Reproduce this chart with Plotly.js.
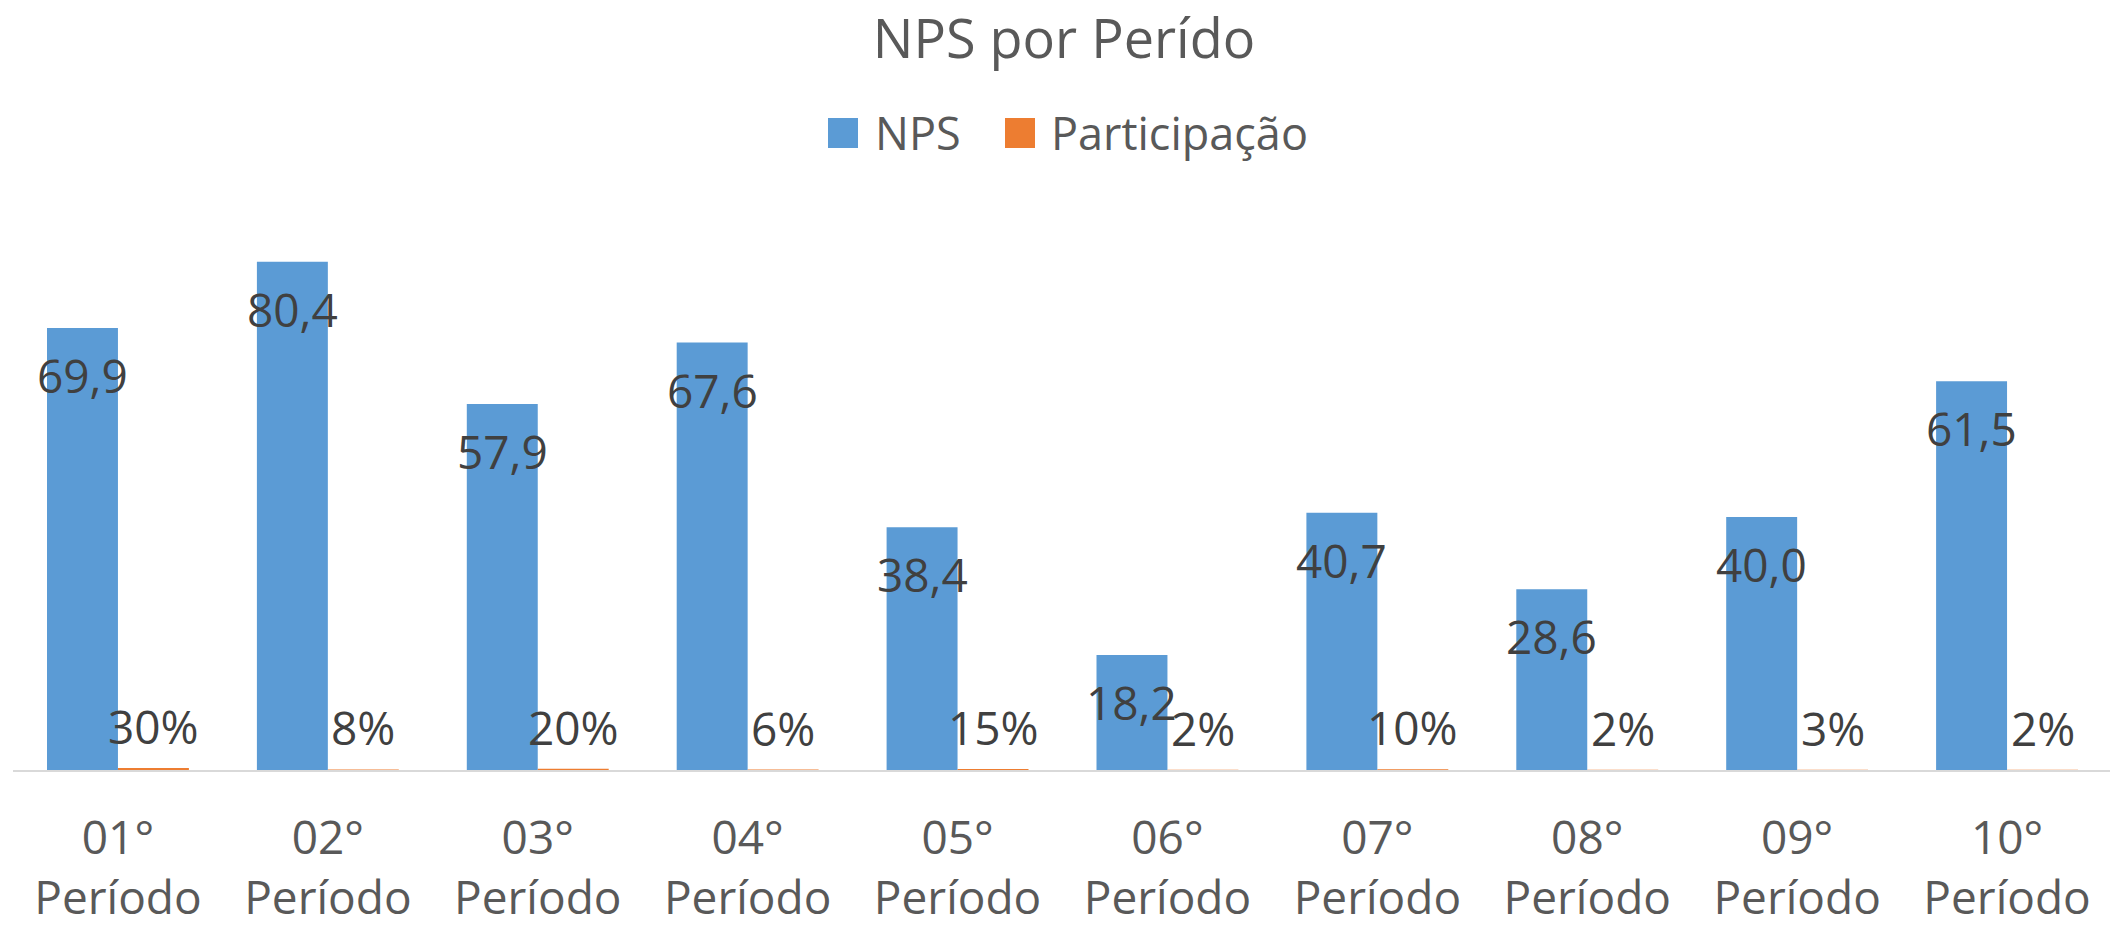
<!DOCTYPE html>
<html>
<head>
<meta charset="utf-8">
<script src="https://cdn.plot.ly/plotly-3.0.1.min.js"></script>
<style>html,body{margin:0;padding:0;background:#fff;}#chart{width:2110px;height:926px;}</style>
</head>
<body>
<div id="chart"></div>
<script>
// ---- data ----
var categories = ["01° Período","02° Período","03° Período","04° Período","05° Período","06° Período","07° Período","08° Período","09° Período","10° Período"];
var npsValues = [69.9, 80.4, 57.9, 67.6, 38.4, 18.2, 40.7, 28.6, 40.0, 61.5];
var participacaoValues = [0.30, 0.08, 0.20, 0.06, 0.15, 0.02, 0.10, 0.02, 0.03, 0.02];
var seriesNames = ["NPS", "Participação"];
var tickLabels = categories.map(function(c){ return c.replace(" ", "<br>"); });

// ---- layout constants ----
var W = 2110, H = 926;
var M = {l: 13, r: 0, t: 201, b: 156, pad: 0};
var plotW = W - M.l - M.r, plotH = H - M.t - M.b;
function pxX(px){ return (px - M.l) / plotW; }
function pxY(py){ return (H - M.b - py) / plotH; }

var FONT = "'Open Sans', 'Noto Sans', sans-serif";
var BLUE = "#5B9BD5", ORANGE = "#ED7D31";
var LABEL_COLOR = "#404040", TEXT_COLOR = "#595959";
var barHalf = 210 * (1 - 0.324) / 4; // half of one bar width in px

var traces = [
  {type: "bar", name: seriesNames[0], x: categories, y: npsValues,
   marker: {color: BLUE}, showlegend: false, hoverinfo: "x+y"},
  {type: "bar", name: seriesNames[1], x: categories, y: participacaoValues,
   marker: {color: ORANGE}, showlegend: false, hoverinfo: "x+y"}
];

var annotations = [];
categories.forEach(function(c, i){
  annotations.push({
    x: c, y: npsValues[i], xref: "x", yref: "y",
    text: npsValues[i].toFixed(1).replace(".", ","),
    showarrow: false, xanchor: "center", yanchor: "middle",
    xshift: -barHalf, yshift: -47,
    font: {family: FONT, size: 46, color: LABEL_COLOR}
  });
  annotations.push({
    x: c, y: participacaoValues[i], xref: "x", yref: "y",
    text: Math.round(participacaoValues[i] * 100) + "%",
    showarrow: false, xanchor: "center", yanchor: "middle",
    xshift: barHalf, yshift: 42,
    font: {family: FONT, size: 46, color: LABEL_COLOR}
  });
});

// manual legend (large square swatches)
var legendItems = [
  {name: seriesNames[0], color: BLUE, sq: 828, tx: 873},
  {name: seriesNames[1], color: ORANGE, sq: 1005, tx: 1049}
];
var shapes = [];
legendItems.forEach(function(it){
  shapes.push({type: "rect", xref: "paper", yref: "paper",
    x0: pxX(it.sq), x1: pxX(it.sq + 30), y0: pxY(148), y1: pxY(118),
    fillcolor: it.color, line: {width: 0}});
  annotations.push({xref: "paper", yref: "paper", x: pxX(it.tx), y: pxY(132),
    text: it.name, showarrow: false, xanchor: "left", yanchor: "middle",
    font: {family: FONT, size: 45, color: TEXT_COLOR}});
});

var layout = {
  width: W, height: H,
  margin: M,
  paper_bgcolor: "#ffffff", plot_bgcolor: "#ffffff",
  title: {text: "NPS por Perído", x: pxX(1064), xref: "paper", xanchor: "center",
          y: 1 - 39 / H, yref: "container", yanchor: "middle",
          font: {family: FONT, size: 54, color: TEXT_COLOR}},
  barmode: "group", bargap: 0.324, bargroupgap: 0,
  showlegend: false,
  xaxis: {type: "category", range: [-0.5, 9.5 - 2 / 210],
          tickvals: categories, ticktext: tickLabels,
          showline: true, linecolor: "#D9D9D9", linewidth: 2,
          showgrid: false, zeroline: false, ticks: "",
          tickfont: {family: FONT, size: 46, color: TEXT_COLOR},
          ticklabelstandoff: 27, fixedrange: true},
  yaxis: {range: [0, 90], visible: false, showgrid: false, zeroline: false, fixedrange: true},
  annotations: annotations,
  shapes: shapes,
  font: {family: FONT}
};

Plotly.newPlot("chart", traces, layout, {displayModeBar: false, staticPlot: true});
</script>
</body>
</html>
